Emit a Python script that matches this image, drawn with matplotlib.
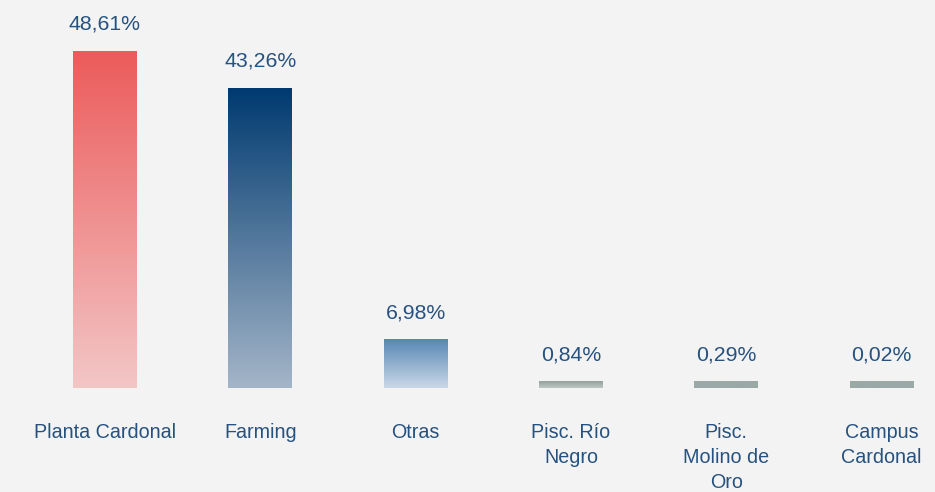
import numpy as np
import matplotlib
matplotlib.use("Agg")
import matplotlib.pyplot as plt
from matplotlib.colors import LinearSegmentedColormap

categories = ["Planta Cardonal", "Farming", "Otras", "Pisc. Río\nNegro",
              "Pisc.\nMolino de\nOro", "Campus\nCardonal"]
values = [48.61, 43.26, 6.98, 0.84, 0.29, 0.02]
value_labels = ["48,61%", "43,26%", "6,98%", "0,84%", "0,29%", "0,02%"]

# gradient colours per bar (top, bottom)
top_colors = ["#ec5b5b", "#003a70", "#5787b4", "#93a19d", "#9aa9a6", "#9aa9a6"]
bottom_colors = ["#f3c6c6", "#a4b5c8", "#cad8e8", "#bcc6c3", "#9aa9a6", "#9aa9a6"]

bg = "#f3f3f3"
text_color = "#27527f"
min_visible = 0.9  # tiny shares still get a visible stub

plt.rcParams['font.family'] = ['Liberation Sans', 'DejaVu Sans']

fig = plt.figure(figsize=(9.35, 4.92), dpi=100, facecolor=bg)
ax = fig.add_axes([0, 0, 1, 1])
ax.set_facecolor(bg)

x = np.arange(len(categories))
width = 0.41
grad = np.linspace(1, 0, 256).reshape(-1, 1)

for i, v in enumerate(values):
    h = max(v, min_visible)
    cmap = LinearSegmentedColormap.from_list("g%d" % i, [bottom_colors[i], top_colors[i]])
    ax.imshow(grad, cmap=cmap, aspect="auto", vmin=0, vmax=1,
              extent=[x[i] - width / 2, x[i] + width / 2, 0, h], zorder=2)
    ax.annotate(value_labels[i], (x[i], h), xytext=(0, 19.5), textcoords="offset points",
                ha="center", va="center", fontsize=15.3, color=text_color)
    ax.annotate(categories[i], (x[i], 0), xytext=(0, -25.5), textcoords="offset points",
                ha="center", va="top", fontsize=14.2, color=text_color, linespacing=1.4)

px = 155.3
ax.set_xlim(-105 / px, (935 - 105) / px)
scale = 48.61 / 337
ax.set_ylim(-104 * scale, (492 - 104) * scale)
ax.axis("off")

fig.savefig("out.png", dpi=100, facecolor=bg)
